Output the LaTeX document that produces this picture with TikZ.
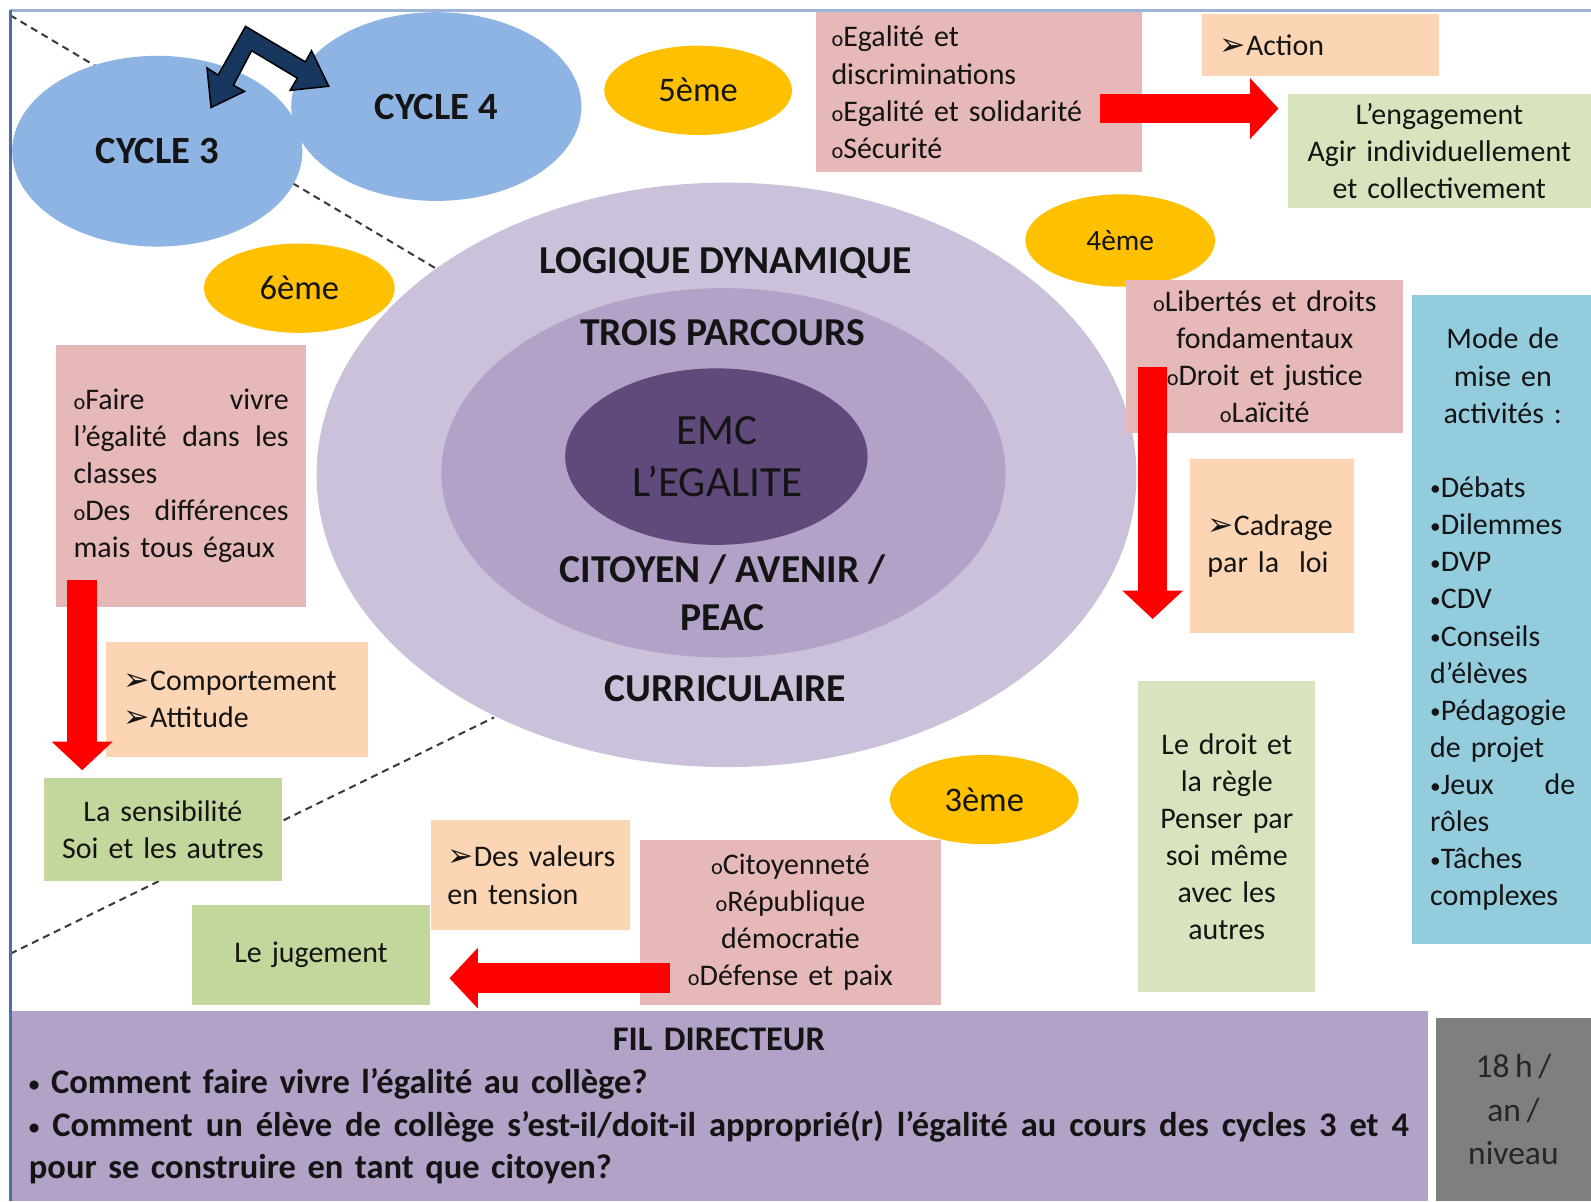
\documentclass[tikz,border=0pt]{standalone}
\usepackage{fontspec}
\setmainfont{Carlito}
\newfontfamily\symfont{DejaVu Sans}
\usetikzlibrary{shapes.geometric, arrows.meta}

\definecolor{pinkc}{HTML}{E6B9B8}
\definecolor{peachc}{HTML}{FCD5B5}
\definecolor{greenlc}{HTML}{D7E4BD}
\definecolor{greenc}{HTML}{C3D69B}
\definecolor{bluec}{HTML}{93CDDD}
\definecolor{cyclec}{HTML}{8EB4E3}
\definecolor{yellowc}{HTML}{FFC000}
\definecolor{lavA}{HTML}{CCC1DA}
\definecolor{lavB}{HTML}{B3A2C7}
\definecolor{lavC}{HTML}{604A7B}
\definecolor{grayc}{HTML}{7F7F7F}
\definecolor{navyc}{HTML}{17375E}
\definecolor{redc}{HTML}{FF0000}
\definecolor{txtc}{HTML}{141414}
\definecolor{dashc}{HTML}{3A3A3A}
\definecolor{leftc}{HTML}{4A6FA5}
\definecolor{topc}{HTML}{9DB3D8}

\hyphenpenalty=10000
\exhyphenpenalty=10000

\newcommand\bodyfont{\fontsize{29.5}{36.6}\selectfont}
\newcommand\ob{{\fontsize{22}{22}\selectfont o}}
\newcommand\arr{{\symfont\fontsize{31}{31}\selectfont\char"27A2}}
\newcommand\bul{\raisebox{1.5pt}{\fontsize{21}{21}\selectfont •}}
\newcommand\just[2]{\makebox[#1][l]{\spaceskip=0.23em plus 1fill\relax #2}}

\tikzset{
  box/.style={anchor=north west, inner sep=0pt, outer sep=0pt, font=\bodyfont, text=txtc},
  pinkbox/.style={box, fill=pinkc},
  peachbox/.style={box, fill=peachc},
  greenbox/.style={box, fill=greenc},
  lightbox/.style={box, fill=greenlc},
  ring/.style={ellipse, inner sep=0pt},
  cycle/.style={ellipse, fill=cyclec, inner sep=0pt, text=txtc, font=\bfseries\fontsize{38}{44}\selectfont},
  year/.style={ellipse, fill=yellowc, inner sep=0pt, text=txtc, font=\fontsize{34}{40}\selectfont},
  big/.style={inner sep=0pt, text=txtc, text height=25pt, text depth=0pt, font=\bfseries\fontsize{39}{46}\selectfont},
  emc/.style={inner sep=0pt, text=txtc, text height=27pt, text depth=0pt, font=\fontsize{42.5}{50}\selectfont},
  redarrow/.style={draw=redc, line width=29pt, -{Triangle[length=28pt, width=60pt, line width=0pt]}},
  guide/.style={draw=dashc, line width=2pt, dash pattern=on 7pt off 5pt},
}

\begin{document}
\begin{tikzpicture}[x=1pt, y=-1pt]
\useasboundingbox (0,0) rectangle (1568,1184);
\fill[white] (0,0) rectangle (1568,1184);
% pointilles
\coordinate (d1) at (10,15);
\coordinate (d2) at (432,266);
\coordinate (d3) at (10,940);
\coordinate (d4) at (487,707);
\draw[guide] (d1) -- (d2);
\draw[guide] (d3) -- (d4);
% cycles
\node[cycle, minimum width=286pt, minimum height=186pt] (c4) at (430,105) {CYCLE 4};
\node[cycle, minimum width=286pt, minimum height=188pt] (c3) at (155,149) {CYCLE 3};
\filldraw[fill=navyc, draw=black, line width=1.5pt, line join=miter] (242,26) -- (301,61) -- (307,50) -- (324,85) -- (286,89) -- (293,77) -- (248,50) -- (230,84) -- (241,90) -- (208,106) -- (204,67) -- (215,74) -- cycle;
% anneaux
\node[ring, fill=lavA, minimum width=808pt, minimum height=576pt] (r1) at (716,468) {};
\node[ring, fill=lavB, minimum width=556pt, minimum height=364pt] (r2) at (713,466) {};
\node[ring, fill=lavC, minimum width=298pt, minimum height=174pt] (r3) at (706,450) {};
\node[big] (logique) at (715,257) {LOGIQUE DYNAMIQUE};
\node[big] (trois) at (712,328) {TROIS PARCOURS};
\node[emc] (emc) at (707,425) {EMC};
\node[emc] (egalite) at (707,476) {L’EGALITE};
\node[big] (citoyen) at (712,562) {CITOYEN / AVENIR /};
\node[big] (peac) at (712,609) {PEAC};
\node[big] (curri) at (715,679) {CURRICULAIRE};
% niveaux
\node[year, minimum width=185pt, minimum height=88pt] (y5) at (688,89) {5ème};
\node[year, minimum width=188pt, minimum height=88pt] (y6) at (295,284) {6ème};
\node[year, minimum width=187pt, minimum height=91pt, font=\fontsize{29}{34}\selectfont] (y4) at (1104,237) {4ème};
\node[year, minimum width=186pt, minimum height=88pt] (y3) at (970,788) {3ème};
% encadres
\node[pinkbox, minimum width=321pt, minimum height=158pt, text width=290pt, align=left] (p5) at (804,12)
  {\ob Egalité et\\discriminations\\\ob Egalité et solidarité\\\ob Sécurité};
\node[peachbox, minimum width=233pt, minimum height=61pt, text width=199pt, align=left] (act) at (1185,14) {\arr Action};
\node[lightbox, minimum width=299pt, minimum height=112pt, text width=290pt, align=center] (eng) at (1269,93)
  {L’engagement\\Agir individuellement\\et collectivement};
\node[pinkbox, minimum width=273pt, minimum height=151pt, text width=260pt, align=center] (p4) at (1110,276)
  {\ob Libertés et droits\\fondamentaux\\\ob Droit et justice\\\ob Laïcité};
\node[peachbox, minimum width=161pt, minimum height=172pt, text width=127pt, align=left] (cad) at (1173,452)
  {\arr Cadrage\\par la\ \ loi};
\node[box, fill=bluec, minimum width=178pt, minimum height=639pt, text width=143pt, align=left] (mode) at (1392,291)
  {\makebox[143pt]{Mode de}\\\makebox[143pt]{mise en}\\\makebox[143pt]{activités :}\\[36.6pt]
   \bul Débats\\\bul Dilemmes\\\bul DVP\\\bul CDV\\\bul Conseils\\d’élèves\\\bul Pédagogie\\de projet\\
   \just{143pt}{\bul Jeux de}\\rôles\\\bul Tâches\\complexes};
\node[pinkbox, minimum width=247pt, minimum height=258pt, text width=212pt, align=left] (pL) at (55,340)
  {\just{212pt}{\ob Faire vivre}\\\just{212pt}{l’égalité dans les}\\classes\\
   \just{212pt}{\ob Des différences}\\mais tous égaux};
\node[peachbox, minimum width=259pt, minimum height=113pt, text width=223pt, align=left] (comp) at (104,633)
  {\arr Comportement\\\arr Attitude};
\node[greenbox, minimum width=235pt, minimum height=101pt, text width=230pt, align=center] (sens) at (43,767)
  {La sensibilité\\Soi et les autres};
\node[greenbox, minimum width=235pt, minimum height=98pt, text width=230pt, align=center] (jug) at (189,892) {Le jugement};
\node[peachbox, minimum width=196pt, minimum height=109pt, text width=164pt, align=left] (val) at (425,808)
  {\makebox[164pt][l]{\arr Des valeurs}\\en tension};
\node[pinkbox, minimum width=296pt, minimum height=162pt, text width=280pt, align=center] (p3) at (631,828)
  {\ob Citoyenneté\\\ob République\\démocratie\\\ob Défense et paix};
\node[lightbox, minimum width=174pt, minimum height=307pt, text width=170pt, align=center] (regle) at (1122,671)
  {Le droit et\\la règle\\Penser par\\soi même\\avec les\\autres};
% fil directeur
\node[box, fill=lavB, minimum width=1397pt, minimum height=188pt, text width=1360pt, align=left,
  font=\bfseries\fontsize{34}{42.3}\selectfont] (fil) at (10,996)
  {\makebox[1360pt]{FIL DIRECTEUR}\\
   \bul\ Comment faire vivre l’égalité au collège?\\
   \just{1360pt}{\bul\ Comment un élève de collège s’est-il/doit-il approprié(r) l’égalité au cours des cycles 3 et 4}\\
   pour se construire en tant que citoyen?};
\node[box, fill=grayc, minimum width=153pt, minimum height=181pt, text width=150pt, align=center,
  font=\fontsize{33}{42.5}\selectfont, text=black!85] (heures) at (1415,1003) {18\,h\,/\\an\,/\\niveau};
% fleches
\coordinate (a1s) at (1084,107);
\coordinate (a1e) at (1260,107);
\coordinate (a2s) at (1136,362);
\coordinate (a2e) at (1136,610);
\coordinate (a3s) at (81,572);
\coordinate (a3e) at (81,759);
\coordinate (a4s) at (660,964);
\coordinate (a4e) at (443,964);
\draw[redarrow] (a1s) -- (a1e);
\draw[redarrow] (a2s) -- (a2e);
\draw[redarrow] (a3s) -- (a3e);
\draw[redarrow] (a4s) -- (a4e);
% cadre
\draw[draw=topc, line width=3pt] (10,10) -- (1568,10);
\draw[draw=leftc, line width=3pt] (10,10) -- (10,1184);
\end{tikzpicture}
\end{document}
